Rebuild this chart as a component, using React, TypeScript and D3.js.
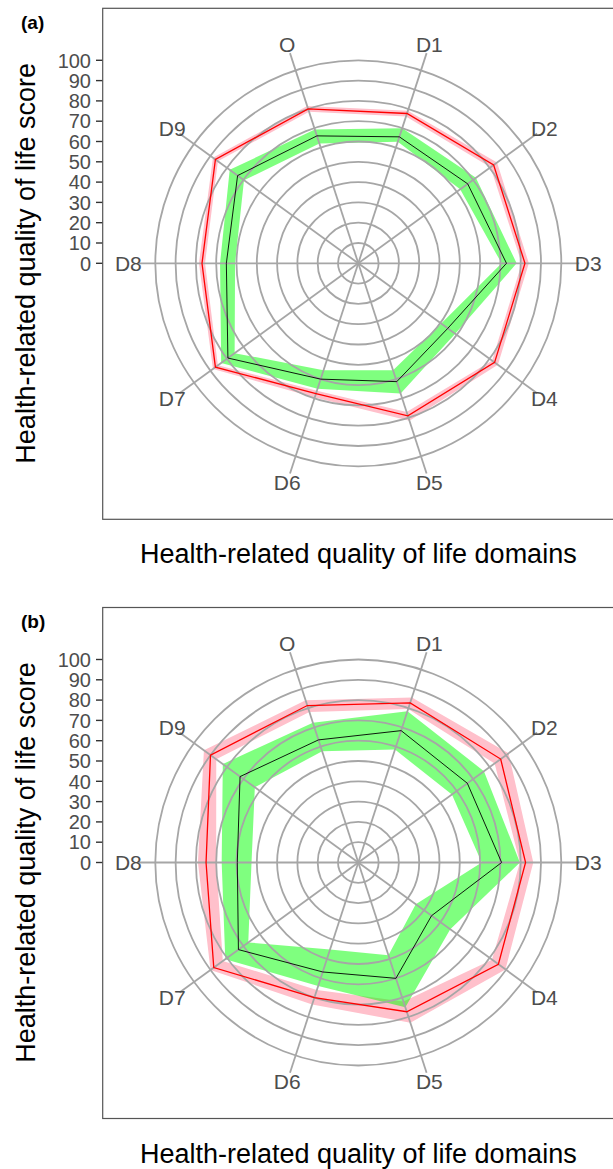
import * as d3 from "d3";

const CATEGORIES = ["O", "D1", "D2", "D3", "D4", "D5", "D6", "D7", "D8", "D9"];
const TICKS = [0, 10, 20, 30, 40, 50, 60, 70, 80, 90, 100];
const RINGS = [10, 20, 30, 40, 50, 60, 70, 80, 90, 100];

// panel (a)
const A_RED = [80, 77.6, 82.4, 82.1, 83, 79, 67.5, 87, 77, 87];
const A_RED_LO = [78.5, 76, 80.5, 80.5, 81.5, 77, 66, 85.5, 75.5, 85.5];
const A_RED_HI = [81.5, 79, 84.5, 84, 85, 81.5, 69.5, 88.5, 78.5, 88.5];
const A_BLACK = [66, 65.5, 66.6, 73, 54.5, 61.3, 60, 79.4, 65, 73.5];
const A_GREEN_LO = [62, 63, 62, 70.6, 50.5, 55.4, 55.4, 75.3, 60.7, 69.6];
const A_GREEN_HI = [69.3, 70, 71.6, 78, 59, 67.5, 65, 83.5, 68.1, 78.3];

// panel (b)
const B_RED = [81.3, 82.7, 86.7, 82.4, 85.3, 77.3, 70, 88, 75, 90];
const B_RED_LO = [78, 79.5, 83, 79.6, 81.4, 72, 66, 82.5, 70, 86.5];
const B_RED_HI = [84, 85.5, 91.5, 86.2, 89.6, 83, 73.5, 90, 79, 94];
const B_BLACK = [63.5, 68.3, 66.4, 70.6, 44.6, 60, 56.7, 73, 59.6, 72];
const B_GREEN_LO = [57.6, 58.5, 57, 60.8, 35, 48, 45, 67, 52.6, 63];
const B_GREEN_HI = [72.4, 78.4, 76.5, 79.6, 56, 75, 64, 81, 67.3, 82.5];

const W = 613;
const H = 1169;
const FONT = "'Liberation Sans', Arial, Helvetica, sans-serif";
const GRID = "#a6a6a6";

const angle = d3
  .scalePoint<string>()
  .domain(CATEGORIES)
  .range([-Math.PI / 10, 2 * Math.PI - Math.PI / 10 - (2 * Math.PI) / 10])
  .padding(0);
const r = d3.scaleLinear().domain([0, 100]).range([0, 203]);

const radial = d3
  .lineRadial<number>()
  .angle((_, i) => angle(CATEGORIES[i]) as number)
  .radius((d) => r(d))
  .curve(d3.curveLinearClosed);

function Panel({ top, tag, red, redLo, redHi, black, greenLo, greenHi }: any) {
  const cx = 358.3;
  const cy = top + 255;
  const frameX = 102.7;
  const ribbon = (hi: number[], lo: number[]) => (radial(hi) || "") + (radial(lo) || "");
  const polar = (a: number, rad: number) => [Math.sin(a) * rad, -Math.cos(a) * rad];

  return (
    <g>
      <text x={21} y={top + 20.5} fontFamily={FONT} fontWeight="bold" fontSize={19} fill="#000">
        {tag}
      </text>
      <text
        transform={`translate(35,${cy}) rotate(-90)`}
        textAnchor="middle"
        fontFamily={FONT}
        fontSize={27}
        fill="#000"
      >
        Health-related quality of life score
      </text>
      <text x={cx} y={top + 555} textAnchor="middle" fontFamily={FONT} fontSize={27} fill="#000">
        Health-related quality of life domains
      </text>

      {TICKS.map((t) => (
        <g key={t} transform={`translate(0,${cy - r(t)})`}>
          <line x1={96} x2={frameX} stroke="#333" strokeWidth={1.4} />
          <text x={91} dy="0.36em" textAnchor="end" fontFamily={FONT} fontSize={20} fill="#4d4d4d">
            {t}
          </text>
        </g>
      ))}

      <g transform={`translate(${cx},${cy})`}>
        <path d={ribbon(redHi, redLo)} fill="#ffc0cb" fillRule="evenodd" />
        <path d={ribbon(greenHi, greenLo)} fill="#00ff00" fillOpacity={0.5} fillRule="evenodd" />

        {RINGS.map((v) => (
          <circle key={v} r={r(v)} fill="none" stroke={GRID} strokeWidth={1.8} />
        ))}
        {CATEGORIES.map((c) => {
          const [x, y] = polar(angle(c) as number, 221);
          return <line key={c} x1={0} y1={0} x2={x} y2={y} stroke={GRID} strokeWidth={1.8} />;
        })}

        <path d={radial(red) || ""} fill="none" stroke="#ff0000" strokeWidth={1.3} />
        <path d={radial(black) || ""} fill="none" stroke="#000" strokeWidth={0.9} />

        {CATEGORIES.map((c) => {
          const [x, y] = polar(angle(c) as number, 230);
          return (
            <text
              key={c}
              x={x}
              y={y}
              dy="0.36em"
              textAnchor="middle"
              fontFamily={FONT}
              fontSize={21}
              fill="#4d4d4d"
            >
              {c}
            </text>
          );
        })}
      </g>

      <rect x={frameX} y={top} width={W} height={511} fill="none" stroke="#555" strokeWidth={1.2} />
    </g>
  );
}

export default function App() {
  return (
    <svg
      width={W}
      height={H}
      viewBox={`0 0 ${W} ${H}`}
      style={{ position: "absolute", left: 0, top: 0, background: "#fff" }}
    >
      <rect width={W} height={H} fill="#fff" />
      <Panel
        top={8.3}
        tag="(a)"
        red={A_RED}
        redLo={A_RED_LO}
        redHi={A_RED_HI}
        black={A_BLACK}
        greenLo={A_GREEN_LO}
        greenHi={A_GREEN_HI}
      />
      <Panel
        top={607.5}
        tag="(b)"
        red={B_RED}
        redLo={B_RED_LO}
        redHi={B_RED_HI}
        black={B_BLACK}
        greenLo={B_GREEN_LO}
        greenHi={B_GREEN_HI}
      />
    </svg>
  );
}
